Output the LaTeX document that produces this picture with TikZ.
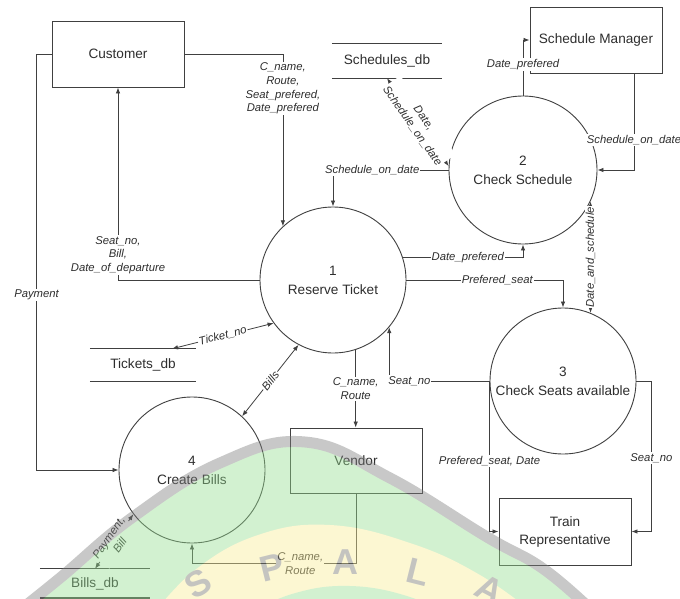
\documentclass[tikz,border=0pt]{standalone}
\usepackage{fontspec}
\setmainfont{Liberation Sans}
\usetikzlibrary{arrows.meta,calc}
\definecolor{ln}{HTML}{404040}
\definecolor{tx}{HTML}{2E2E2E}
\definecolor{wmgreen}{RGB}{150,222,145}
\definecolor{wmyellow}{RGB}{248,236,150}
\definecolor{wmgray}{RGB}{125,125,125}
\definecolor{wmletter}{RGB}{115,115,105}
\begin{document}
\begin{tikzpicture}[x=1pt,y=-1pt,
  every node/.style={text=tx},
  ent/.style={draw=ln, line width=0.9pt, minimum width=132pt, minimum height=66pt, inner sep=0pt, align=center, font=\fontsize{13.6}{18}\selectfont},
  proc/.style={draw=ln, line width=0.9pt, circle, minimum size=146pt, inner sep=0pt, align=center, font=\fontsize{13.6}{19}\selectfont},
  store/.style={minimum width=110pt, minimum height=34pt, inner sep=0pt, font=\fontsize{13.6}{16}\selectfont},
  storeline/.style={draw=ln, line width=0.9pt},
  flow/.style={draw=ln, line width=0.8pt, -{Latex[length=6pt,width=4.5pt]}},
  bflow/.style={draw=ln, line width=0.8pt, {Latex[length=6pt,width=4.5pt]}-{Latex[length=6pt,width=4.5pt]}},
  lbl/.style={fill=white, inner sep=1pt, align=center, font=\fontsize{11.3}{13.7}\selectfont\itshape}
]
\useasboundingbox (0,0) rectangle (680,599);
\fill[white] (0,0) rectangle (680,599);

% entities
\node[ent] (cust) at (118,54) {Customer};
\node[ent] (smgr) at (596,40) {Schedule Manager};
\node[ent, minimum height=65pt] (vendor) at (356,460.5) {Vendor};
\node[ent, minimum height=67pt] (train) at (565,531.5) {Train\\Representative};

% processes
\node[proc] (c1) at (333,280) {1\\Reserve Ticket};
\node[proc, minimum size=148pt] (c2) at (523,170) {2\\Check Schedule};
\node[proc] (c3) at (563,381) {3\\Check Seats available};
\node[proc] (c4) at (192,470) {4\\Create Bills};

% data stores
\node[store] (sdb) at (387,61) {Schedules\_db};
\node[store, minimum width=106pt, minimum height=32pt] (tdb) at (143,365) {Tickets\_db};
\node[store, minimum height=29pt] (bdb) at (95,583.5) {Bills\_db};
\draw[storeline] (sdb.north west) -- (sdb.north east) (sdb.south west) -- (sdb.south east);
\draw[storeline] (tdb.north west) -- (tdb.north east) (tdb.south west) -- (tdb.south east);
\draw[storeline] (bdb.north west) -- (bdb.north east);
\draw[storeline, line width=2.2pt] (bdb.south west) -- (bdb.south east);

% flows
\draw[flow] (cust.east) -| node[lbl, pos=0.6]{C\_name,\\Route,\\Seat\_prefered,\\Date\_prefered} (c1.133);
\draw[flow] (c1.west) -| node[lbl, pos=0.565]{Seat\_no,\\Bill,\\Date\_of\_departure} (cust.south);
\draw[flow] (cust.west) -- ([xshift=-15pt]cust.west) |- node[lbl, pos=0.29]{Payment} (c4.west);
\draw[bflow] (sdb.south) -- node[lbl, sloped, pos=0.5]{Date,\\Schedule\_on\_date} (c2.177);
\draw[flow] (c2.west) -| node[lbl, pos=0.33]{Schedule\_on\_date} (c1.north);
\draw[flow] (c2.north) |- node[lbl, pos=0.28]{Date\_prefered} (smgr.west);
\draw[flow] ([xshift=38pt]smgr.south) |- node[lbl, pos=0.345]{Schedule\_on\_date} (c2.east);
\draw[bflow] (c2.335) -- node[lbl, rotate=90, midway]{Date\_and\_schedule} (c3.68);
\draw[flow] (c1.18) -| node[lbl, pos=0.27]{Date\_prefered} (c2.south);
\draw[flow] (c1.east) -| node[lbl, pos=0.29]{Prefered\_seat} (c3.north);
\draw[flow] (c3.west) -| node[lbl, pos=0.4]{Seat\_no} (c1.320);
\draw[flow] (c1.288) -- node[lbl]{C\_name,\\Route} (c1.288 |- vendor.north);
\draw[bflow] ([xshift=29pt]tdb.north) -- node[lbl, sloped]{Ticket\_no} (c1.216);
\draw[bflow] (c4.47) -- node[lbl, sloped]{Bills} (c1.242);
\draw[bflow] (bdb.north) -- node[lbl, sloped]{Payment,\\Bill} (c4.217);
\draw[flow] (vendor.south) |- node[lbl, pos=0.67]{C\_name,\\Route} ([yshift=-20pt]c4.south) -- (c4.south);
\draw[flow] (c3.west) |- node[lbl, pos=0.266]{Prefered\_seat, Date} (train.west);
\draw[flow] (c3.east) -- ([xshift=15pt]c3.east) |- node[lbl, pos=0.256]{Seat\_no} (train.east);

% watermark
\begin{scope}[transparency group, opacity=0.42]
\clip (0,0) rectangle (680,599);
\fill[wmgreen] plot[smooth, tension=0.7] coordinates {(10,618) (60,578) (133,517) (220,463) (305,442) (390,478) (487,537) (545,570) (600,618)} -- cycle;
\fill[wmyellow] plot[smooth, tension=0.7] coordinates {(150,618) (195,570) (258,535) (330,525) (410,543) (480,575) (540,618)} -- cycle;
\fill[wmgreen] plot[smooth, tension=0.7] coordinates {(240,618) (292,594) (350,586) (410,597) (450,618)} -- cycle;
\draw[wmgray, line width=11pt] plot[smooth, tension=0.7] coordinates {(10,618) (60,578) (133,517) (220,463) (305,442) (390,478) (487,537) (545,570) (600,618)};
\foreach \ch/\px/\py/\rot in {S/198/584/32, P/272/568/14, A/345/562/0, L/418/572/-14, A/490/590/-28}
  \node[text=wmletter, font=\fontsize{36}{36}\selectfont\bfseries, rotate=\rot] at (\px,\py) {\ch};
\end{scope}
\end{tikzpicture}
\end{document}
